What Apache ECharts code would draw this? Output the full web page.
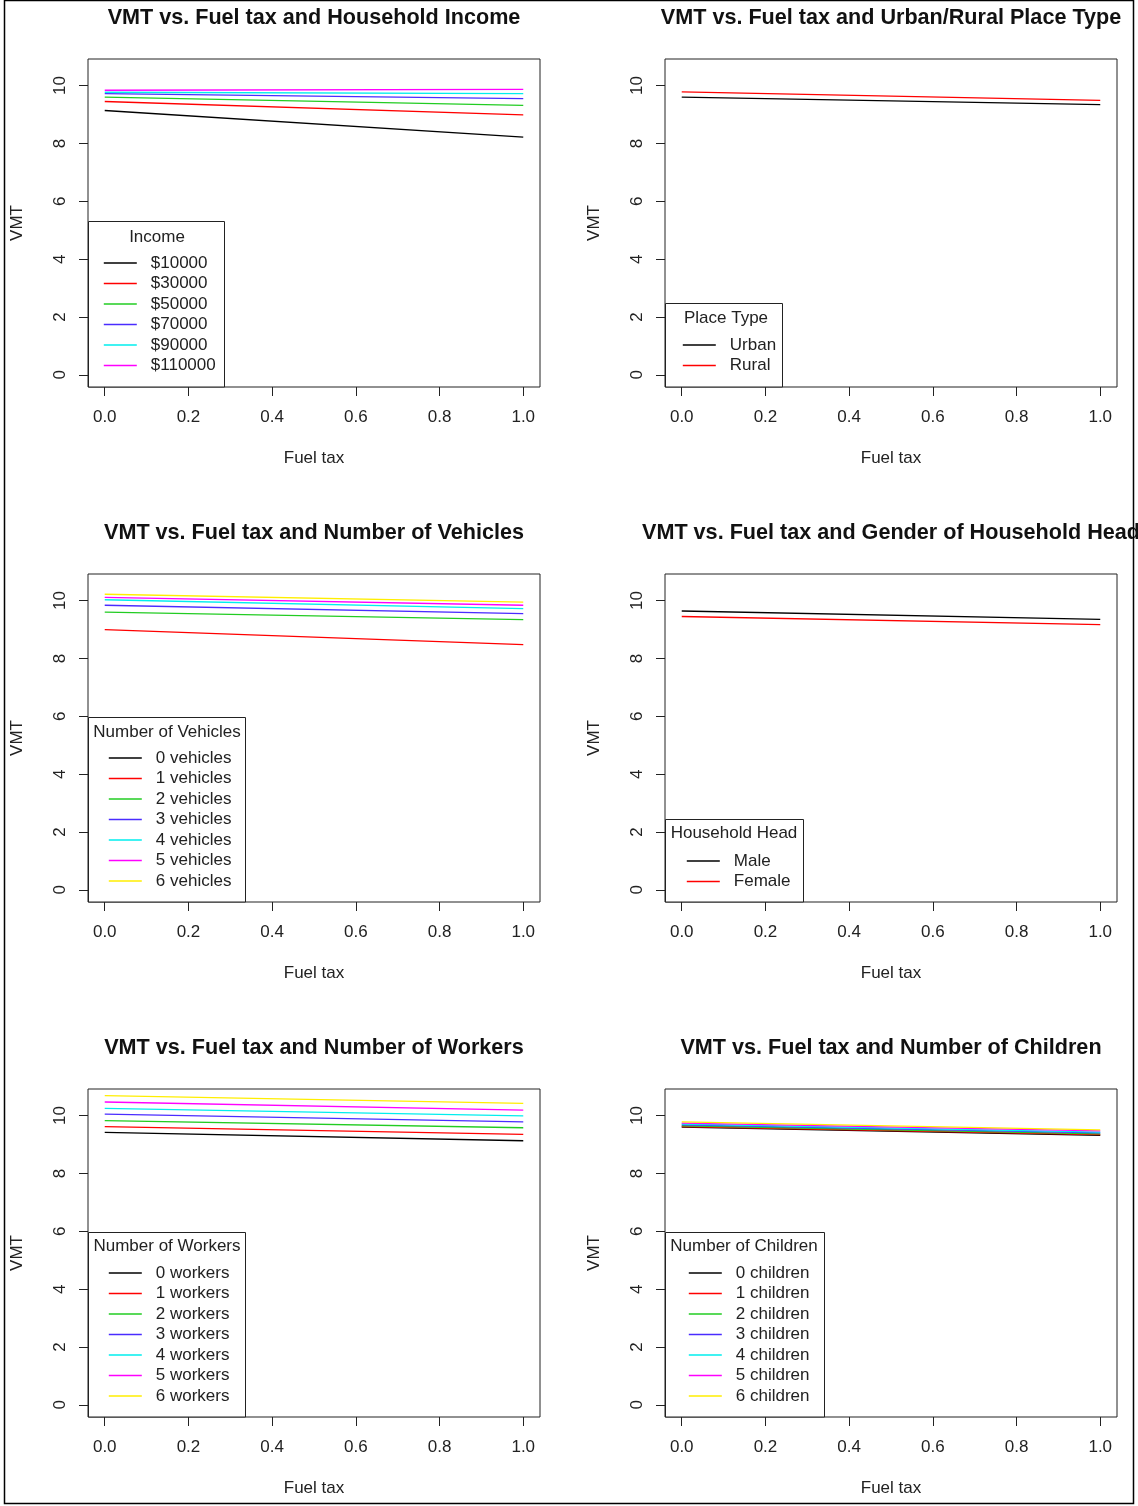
<!DOCTYPE html>
<html>
<head>
<meta charset="utf-8">
<script src="https://cdn.jsdelivr.net/npm/echarts@6/dist/echarts.min.js"></script>
<style>
html,body{margin:0;padding:0;background:#fff;}
#chart{width:1138px;height:1506px;}
</style>
</head>
<body>
<div id="chart"></div>
<script>
// ---------- DATA ----------
const fuelTax = [0, 1];
const xTicks = [0, 0.2, 0.4, 0.6, 0.8, 1.0];
const yTicks = [0, 2, 4, 6, 8, 10];

const panelTitles = [
  'VMT vs. Fuel tax and Household Income',
  'VMT vs. Fuel tax and Urban/Rural Place Type',
  'VMT vs. Fuel tax and Number of Vehicles',
  'VMT vs. Fuel tax and Gender of Household Head',
  'VMT vs. Fuel tax and Number of Workers',
  'VMT vs. Fuel tax and Number of Children'
];
const legendTitles = ['Income', 'Place Type', 'Number of Vehicles', 'Household Head', 'Number of Workers', 'Number of Children'];

const incomeLabels = ['$10000', '$30000', '$50000', '$70000', '$90000', '$110000'];
const incomeVMT = [[9.14, 8.22], [9.45, 8.99], [9.60, 9.32], [9.72, 9.55], [9.77, 9.72], [9.84, 9.87]];

const placeLabels = ['Urban', 'Rural'];
const placeVMT = [[9.60, 9.34], [9.78, 9.49]];

const vehicleLabels = ['0 vehicles', '1 vehicles', '2 vehicles', '3 vehicles', '4 vehicles', '5 vehicles', '6 vehicles'];
const vehicleVMT = [[], [9.00, 8.48], [9.60, 9.34], [9.84, 9.55], [10.03, 9.72], [10.11, 9.84], [10.22, 9.95]];

const genderLabels = ['Male', 'Female'];
const genderVMT = [[9.64, 9.35], [9.45, 9.17]];

const workerLabels = ['0 workers', '1 workers', '2 workers', '3 workers', '4 workers', '5 workers', '6 workers'];
const workerVMT = [[9.42, 9.13], [9.62, 9.35], [9.83, 9.58], [10.05, 9.78], [10.25, 9.99], [10.47, 10.19], [10.69, 10.42]];

const childLabels = ['0 children', '1 children', '2 children', '3 children', '4 children', '5 children', '6 children'];
const childVMT = [[9.60, 9.32], [9.62, 9.34], [9.65, 9.37], [9.68, 9.40], [9.71, 9.43], [9.74, 9.47], [9.78, 9.51]];

const palette = ['#000000', '#ff0000', '#22cc22', '#4a2cff', '#00eeee', '#ff00ff', '#ffee00'];

// ---------- LAYOUT ----------
const FONT = 'Liberation Sans, Arial, Helvetica, sans-serif';
const PW = 452, PH = 328;
const panelPos = [
  {left: 88, top: 59}, {left: 665, top: 59},
  {left: 88, top: 574}, {left: 665, top: 574},
  {left: 88, top: 1089}, {left: 665, top: 1089}
];
const legendBox = [
  {w: 136, h: 166, tx: 69, ty: 16, il: 15, ir: 42},
  {w: 117, h: 84,  tx: 61, ty: 15, il: 17, ir: 42},
  {w: 157, h: 185, tx: 79, ty: 15, il: 20, ir: 41},
  {w: 138, h: 83,  tx: 69, ty: 14, il: 21, ir: 42},
  {w: 157, h: 185, tx: 79, ty: 14, il: 20, ir: 41},
  {w: 159, h: 185, tx: 79, ty: 14, il: 23, ir: 41}
];

const panelLabels = [incomeLabels, placeLabels, vehicleLabels, genderLabels, workerLabels, childLabels];
const panelValues = [incomeVMT, placeVMT, vehicleVMT, genderVMT, workerVMT, childVMT];

const grids = [], xAxes = [], yAxes = [], series = [], legends = [], graphics = [];

graphics.push({type: 'rect', shape: {x: 4.5, y: 0.5, width: 1129, height: 1503},
  style: {fill: 'none', stroke: '#000', lineWidth: 1.5}, z: 100});

panelPos.forEach((p, i) => {
  grids.push({left: p.left, top: p.top, width: PW, height: PH, show: true,
    borderColor: '#222', borderWidth: 1, backgroundColor: 'transparent'});
  xAxes.push({
    type: 'value', gridIndex: i, min: -0.04, max: 1.04, position: 'bottom',
    name: 'Fuel tax', nameLocation: 'middle', nameGap: 63,
    nameTextStyle: {fontFamily: FONT, fontSize: 17, color: '#222'},
    axisLine: {show: false, onZero: false}, splitLine: {show: false},
    axisTick: {show: true, inside: false, length: 9, customValues: xTicks, lineStyle: {color: '#222'}},
    axisLabel: {customValues: xTicks, margin: 22, fontFamily: FONT, fontSize: 17, color: '#222',
      formatter: v => v.toFixed(1)}
  });
  yAxes.push({
    type: 'value', gridIndex: i, min: -0.42, max: 10.92, position: 'left',
    name: 'VMT', nameLocation: 'middle', nameGap: 62,
    nameTextStyle: {fontFamily: FONT, fontSize: 17, color: '#222'},
    axisLine: {show: false, onZero: false}, splitLine: {show: false},
    axisTick: {show: true, inside: false, length: 9, customValues: yTicks, lineStyle: {color: '#222'}},
    axisLabel: {customValues: yTicks, margin: 19, rotate: 90, fontFamily: FONT, fontSize: 17, color: '#222',
      formatter: v => String(v)}
  });
  const labels = panelLabels[i], vals = panelValues[i];
  labels.forEach((name, k) => {
    const v = vals[k];
    series.push({
      type: 'line', name: name, xAxisIndex: i, yAxisIndex: i,
      data: v.length ? fuelTax.map((x, j) => [x, v[j]]) : [],
      symbol: 'none', showSymbol: false, silent: true, color: palette[k],
      lineStyle: {width: 1.3, color: palette[k]}
    });
  });
  graphics.push({type: 'text', x: p.left + PW / 2, y: p.top - 41,
    style: {text: panelTitles[i], fontFamily: FONT, fontSize: 21.6, fontWeight: 'bold', fill: '#111',
      textAlign: 'center', textVerticalAlign: 'middle'}});
  const lb = legendBox[i];
  const bx = p.left, by = p.top + PH - lb.h;
  graphics.push({type: 'rect', shape: {x: bx + 0.5, y: by + 0.5, width: lb.w, height: lb.h - 0.5},
    style: {fill: '#fff', stroke: '#222', lineWidth: 1}, z: 5});
  graphics.push({type: 'text', x: bx + lb.tx, y: by + lb.ty, z: 6,
    style: {text: legendTitles[i], fontFamily: FONT, fontSize: 17, fill: '#222',
      textAlign: 'center', textVerticalAlign: 'middle'}});
  legends.push({
    data: labels, orient: 'vertical', left: bx + lb.il, top: by + lb.ir - 10.25,
    padding: 0, itemGap: 0, itemWidth: 33, itemHeight: 14, selectedMode: false, z: 10,
    itemStyle: {opacity: 0},
    lineStyle: {width: 1.6},
    textStyle: {fontFamily: FONT, fontSize: 17, color: '#222', lineHeight: 20.5, padding: [0, 0, 0, 9]}
  });
});

const chart = echarts.init(document.getElementById('chart'), null, {renderer: 'canvas'});
chart.setOption({
  animation: false,
  backgroundColor: '#fff',
  grid: grids, xAxis: xAxes, yAxis: yAxes, series: series, legend: legends,
  graphic: {elements: graphics}
});
</script>
</body>
</html>
